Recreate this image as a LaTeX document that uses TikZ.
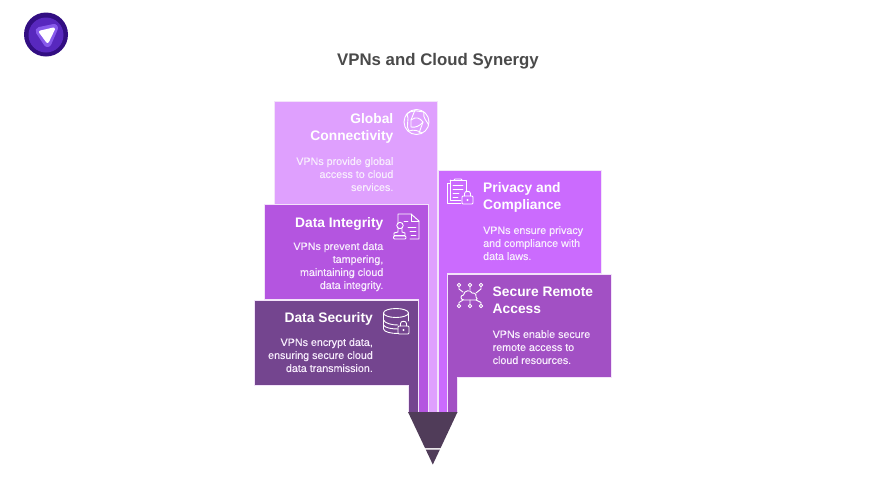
\documentclass[tikz,border=0pt]{standalone}
\usepackage{fontspec}
\setmainfont{Liberation Sans}
\definecolor{cGlobal}{HTML}{DFA0FE}
\definecolor{cInteg}{HTML}{B455E0}
\definecolor{cSecur}{HTML}{74458F}
\definecolor{cPriv}{HTML}{CB6BFE}
\definecolor{cRemote}{HTML}{A250C4}
\definecolor{cFun}{HTML}{503C59}
\definecolor{cEdge}{HTML}{F3E3FA}
\definecolor{cTitle}{HTML}{4A4A4A}
\definecolor{cBody}{HTML}{F8EEFD}
\tikzset{
  x=1pt,y=-1pt,
  panel/.style={draw=cEdge,line width=1pt,line join=miter},
  headR/.style={anchor=north east,inner sep=0pt,align=right,text=white,font=\fontsize{13.8}{17}\selectfont\bfseries},
  headL/.style={anchor=north west,inner sep=0pt,align=left,text=white,font=\fontsize{13.8}{17}\selectfont\bfseries},
  bodyR/.style={anchor=north east,inner sep=0pt,align=right,text=cBody,font=\fontsize{10.7}{13}\selectfont\addfontfeature{FakeBold=0.25}},
  bodyL/.style={anchor=north west,inner sep=0pt,align=left,text=cBody,font=\fontsize{10.7}{13}\selectfont\addfontfeature{FakeBold=0.25}},
  ico/.style={draw=white,line width=0.9pt,line join=round,line cap=round,fill=none},
}
\begin{document}
\begin{tikzpicture}
\useasboundingbox (0,0) rectangle (876,493);
\fill[white] (0,0) rectangle (876,493);
% logo
\fill[color={rgb,255:red,50;green,14;blue,130}] (46,34.5) circle (22);
\fill[color={rgb,255:red,88;green,40;blue,190}] (46,35) circle (17.5);
\path[fill={rgb,255:red,135;green,90;blue,235},draw={rgb,255:red,135;green,90;blue,235},line width=8pt,line join=round] (39.5,31) -- (54,28) -- (47.5,43) -- cycle;
\path[fill=white,draw=white,line width=3pt,line join=round] (40.5,32) -- (53.5,29) -- (47.5,41.5) -- cycle;
% title
\node[inner sep=0pt,text=cTitle,font=\fontsize{16.8}{21}\selectfont\bfseries] (title) at (438,61.5) {VPNs and Cloud Synergy};
% panels
\path[panel,fill=cGlobal] (274.5,101.5) -- (437.5,101.5) -- (437.5,412) -- (427.5,412) -- (427.5,205) -- (274.5,205) -- cycle;
\path[panel,fill=cPriv] (438.5,170.5) -- (601.5,170.5) -- (601.5,273.5) -- (447.5,273.5) -- (447.5,412) -- (438.5,412) -- cycle;
\path[panel,fill=cInteg] (264.5,204.5) -- (428,204.5) -- (428,412) -- (418,412) -- (418,299.5) -- (264.5,299.5) -- cycle;
\path[panel,fill=cRemote] (447.5,274) -- (611.5,274) -- (611.5,377) -- (457.5,377) -- (457.5,412) -- (447.5,412) -- cycle;
\path[panel,fill=cSecur] (254,300) -- (418,300) -- (418,412) -- (408,412) -- (408,385.5) -- (254,385.5) -- cycle;
% funnel
\fill[cFun] (408,412) -- (457.5,412) -- (440.6,448) -- (425,448) -- cycle;
\fill[cFun] (425.7,449.5) -- (439.9,449.5) -- (432.8,464.5) -- cycle;
% text
\node[headR] (gH) at (393.5,113) {Global\\Connectivity};
\node[bodyR] (gB) at (393.5,157) {VPNs provide global\\access to cloud\\services.};
\node[headR] (iH) at (383.5,217) {Data Integrity};
\node[bodyR] (iB) at (383.5,242) {VPNs prevent data\\tampering,\\maintaining cloud\\data integrity.};
\node[headR] (sH) at (373,312) {Data Security};
\node[bodyR] (sB) at (373,338) {VPNs encrypt data,\\ensuring secure cloud\\data transmission.};
\node[headL] (pH) at (483,182) {Privacy and\\Compliance};
\node[bodyL] (pB) at (483,226) {VPNs ensure privacy\\and compliance with\\data laws.};
\node[headL] (rH) at (492.5,287) {Secure Remote\\Access};
\node[bodyL] (rB) at (492.5,330) {VPNs enable secure\\remote access to\\cloud resources.};
% globe icon
\draw[ico] (416.5,122) circle (12.5);
\draw[ico] (406,115) .. controls (412,108) and (420,112) .. (424,112) .. controls (422,118) and (428,122) .. (428.5,125);
\draw[ico] (407,114) .. controls (410,120) and (405,126) .. (409,131) .. controls (414,129) and (419,131) .. (422,133);
\draw[ico] (411,120) .. controls (416,116) and (420,118) .. (423,122) .. controls (420,126) and (415,128) .. (411,127) -- cycle;
\draw[ico] (415,110) -- (411,120) (423,122) -- (419,133);
% document stamp icon
\draw[ico] (398,224) -- (398,214) -- (411,214) -- (419,221) -- (419,239) -- (410,239);
\draw[ico] (411,214) -- (411,221) -- (419,221);
\draw[ico] (404,221) -- (408,221) (408,227) -- (416,227) (410,231) -- (416,231) (411,235) -- (416,235);
\draw[ico] (400,225.5) circle (3.2) (398,229) -- (398,232) -- (394,233) -- (394,235.5) -- (405,235.5) -- (405,233) -- (402,232) -- (402,229);
\draw[ico,rounded corners=1pt] (393.5,236) rectangle (406,239);
% database lock icon
\draw[ico] (396,313) ellipse (12.5 and 4.5);
\draw[ico] (383.5,313) -- (383.5,329) .. controls (384,332) and (391,333.5) .. (398,333.5);
\draw[ico] (408.5,313) -- (408.5,321);
\draw[ico] (383.5,320) .. controls (385,323.5) and (392,325) .. (398,325);
\draw[ico] (383.5,325) .. controls (385,328) and (392,329) .. (398,329);
\draw[ico,rounded corners=1pt] (398,326) rectangle (409,334);
\draw[ico] (400.5,326) -- (400.5,323.5) .. controls (400.5,320.5) and (406.5,320.5) .. (406.5,323.5) -- (406.5,326);
\fill[white] (403.5,330) circle (1.2);
% clipboard lock icon
\draw[ico] (450,183) -- (447,183) -- (447,203) -- (461,203);
\draw[ico] (450,180) -- (466,180) -- (466,192);
\draw[ico] (450,180) -- (450,200) -- (461,200);
\draw[ico,rounded corners=1pt] (454,180) -- (454,179) -- (462,179) -- (462,180);
\draw[ico] (453,185) -- (463,185) (453,189) -- (463,189) (453,193) -- (459,193) (453,197) -- (458,197);
\draw[ico,rounded corners=1pt] (462,196) rectangle (473,204);
\draw[ico] (464.5,196) -- (464.5,193.5) .. controls (464.5,190.5) and (470.5,190.5) .. (470.5,193.5) -- (470.5,196);
\fill[white] (467.5,200) circle (1.2);
% network cloud icon
\draw[ico] (464,300) .. controls (460,300) and (460,295) .. (463.5,295) .. controls (464,290) and (471,289.5) .. (472,293) .. controls (476,292.5) and (477,296) .. (476,297) .. controls (478,298) and (477,300) .. (476,300) -- cycle;
\foreach \q in {459,470,481}{
  \draw[ico] (\q,285) circle (1.8);
  \draw[ico] (\q,306) circle (1.8);
}
\draw[ico] (459,287) -- (459,289) -- (463,292) (470,287) -- (470,290) (481,287) -- (481,289) -- (476,293);
\draw[ico] (459,304) -- (459,302.5) -- (463,300) (470,304) -- (470,300) (481,304) -- (481,302.5) -- (476,300);
\end{tikzpicture}
\end{document}
